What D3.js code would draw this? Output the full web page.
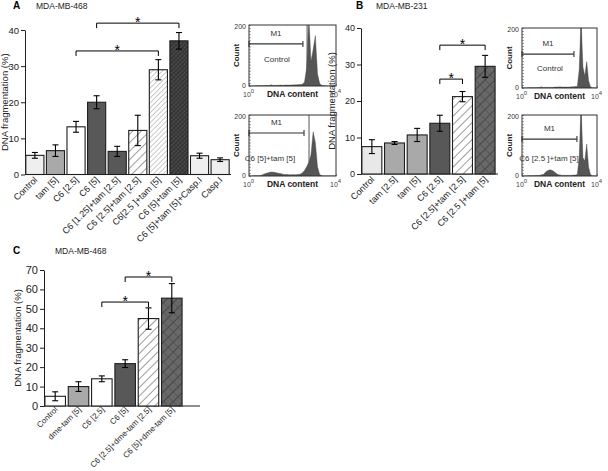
<!DOCTYPE html>
<html>
<head>
<meta charset="utf-8">
<script src="https://cdn.jsdelivr.net/npm/d3@7"></script>
<style>
body { margin: 0; background: #fff; }
svg { display: block; font-family: Arial, "Liberation Sans", sans-serif; }
</style>
</head>
<body>
<svg id="fig" width="608" height="471"></svg>
<script>
// ---- data ----
var catsA = ["Control", "tam [5]", "C6 [2.5]", "C6 [5]", "C6 [1.25]+tam [2.5]", "C6 [2.5]+tam [2.5]",
             "C6[2.5 ]+tam [5]", "C6 [5]+tam [5]", "C6 [5]+tam [5]+Casp.I", "Casp.I"];
var valsA = [5.3, 6.6, 13.2, 20.0, 6.4, 12.2, 29.0, 37.0, 5.2, 4.1];
var errA = [0.8, 1.6, 1.5, 1.8, 1.4, 4.2, 2.8, 2.3, 0.7, 0.5];
var sigA = [[3, 7, 41.9], [2, 6, 34.2]];

var catsB = ["Control", "tam [2.5]", "tam [5]", "C6 [2.5]", "C6 [2.5]+tam [2.5]", "C6 [2.5 ]+tam [5]"];
var valsB = [7.5, 8.5, 10.7, 13.9, 21.2, 29.5];
var errB = [1.9, 0.4, 1.8, 2.2, 1.4, 3.0];
var sigB = [[3, 5, 35.3], [3, 4, 26.0]];

var catsC = ["Control", "dme-tam [5]", "C6 [2.5]", "C6 [5]", "C6 [2.5]+dme-tam [2.5]", "C6 [5]+dme-tam [5]"];
var valsC = [5.0, 10.0, 14.0, 21.8, 45.0, 55.5];
var errC = [2.3, 2.5, 1.5, 2.0, 5.5, 7.5];
var sigC = [[3, 5, 66.4], [2, 4, 53.5]];

var yTicksAB = [0, 10, 20, 30, 40];
var yTicksC = [0, 10, 20, 30, 40, 50, 60, 70];

// flow histograms: counts per 0.1-decade bin, 10^0 .. 10^4
var histACtrl = [0,0,0,1,1,1,1,2,2,2, 2,2,2,2,3,2,3,3,3,3, 3,4,4,5,6,12,60,230,80,120, 165,40,8,2,1,0,0,0,0,0];
var histATreat = [0,0,1,1,1,2,5,8,10,12, 13,12,11,9,8,6,5,5,4,4, 4,4,5,6,10,18,30,45,70,145, 110,30,5,1,0,0,0,0,0,0];
var histBCtrl = [0,0,0,1,1,1,1,1,2,2, 2,2,2,2,2,2,2,3,3,3, 3,3,3,3,3,3,4,4,5,5, 60,230,70,40,88,25,4,1,0,0];
var histBTreat = [0,0,0,1,1,1,1,2,2,2, 3,6,12,17,20,20,17,12,7,4, 2,2,2,2,2,2,2,3,3,5, 60,230,60,50,105,30,5,1,0,0];
// M1 gate end and cursor line (decades), M1 marker height (counts)
var gateA = [[2.48, 2.67, 138], [2.53, 2.76, 141]];
var gateB = [[2.77, 3.15, 113], [2.93, 3.15, 121]];

// ---- styles ----
var fillA = ["#efefef", "#a9a9a9", "#fff", "#585858", "#585858", "url(#hatchSparse)", "url(#hatchDense)", "url(#crossDark)", "#efefef", "#efefef"];
var fillB = ["#e8e8e8", "#a9a9a9", "#a9a9a9", "#585858", "url(#hatchSparse)", "url(#crossMid)"];
var fillC = ["#fff", "#a9a9a9", "#fff", "#585858", "url(#hatchSparse)", "url(#crossMid)"];

var svg = d3.select("#fig");
var ink = "#1e1e1e";

function makePatterns() {
    var defs = svg.append("defs");
    function lines(id, size, bg, col, w, both) {
        var p = defs.append("pattern").attr("id", id).attr("patternUnits", "userSpaceOnUse")
            .attr("width", size).attr("height", size).attr("patternTransform", "rotate(45)");
        p.append("rect").attr("width", size).attr("height", size).attr("fill", bg);
        p.append("line").attr("x1", 0).attr("y1", 0).attr("x2", 0).attr("y2", size)
            .attr("stroke", col).attr("stroke-width", w);
        if (both) {
            p.append("line").attr("x1", 0).attr("y1", 0).attr("x2", size).attr("y2", 0)
                .attr("stroke", both).attr("stroke-width", w);
        }
    }
    lines("hatchSparse", 6, "#fff", "#222", 0.9);
    lines("hatchDense", 3.5, "#fff", "#8a8a8a", 0.9);
    lines("crossDark", 3, "#4a4a4a", "#151515", 1, "#2a2a2a");
    lines("crossMid", 7, "#686868", "#2a2a2a", 1.1, "#4a4a4a");
}

function barPanel(cats, vals, errs, fills, sig, L) {
    var g = svg.append("g");
    var x = d3.scaleBand().domain(cats).range([L.x0, L.x1]).paddingInner(0.12).paddingOuter(0.04);
    var y = d3.scaleLinear().domain([0, L.ymax]).range([L.yb, L.yt]);

    g.append("g").attr("transform", "translate(" + L.x0 + ",0)")
        .call(d3.axisLeft(y).tickValues(L.ticks).tickSize(4).tickSizeOuter(0).tickPadding(2))
        .call(a => a.selectAll("text").attr("font-size", L.tickFont).attr("fill", "#222").attr("font-family", null))
        .call(a => a.selectAll("line,path").attr("stroke", ink));

    g.append("line").attr("x1", L.x0).attr("x2", L.axisEnd).attr("y1", y(0)).attr("y2", y(0))
        .attr("stroke", ink).attr("stroke-width", 1);

    g.selectAll("rect.bar").data(vals).enter().append("rect")
        .attr("class", "bar")
        .attr("x", (d, i) => x(cats[i]))
        .attr("y", d => y(d))
        .attr("width", x.bandwidth())
        .attr("height", d => y(0) - y(d))
        .attr("fill", (d, i) => fills[i])
        .attr("stroke", ink).attr("stroke-width", 1.1);

    var cx = i => x(cats[i]) + x.bandwidth() / 2;
    var eb = g.selectAll("g.err").data(vals).enter().append("g").attr("stroke", "#000").attr("stroke-width", 1.1);
    eb.append("line").attr("x1", (d, i) => cx(i)).attr("x2", (d, i) => cx(i))
        .attr("y1", (d, i) => y(d - errs[i])).attr("y2", (d, i) => y(d + errs[i]));
    eb.append("line").attr("x1", (d, i) => cx(i) - 3).attr("x2", (d, i) => cx(i) + 3)
        .attr("y1", (d, i) => y(d - errs[i])).attr("y2", (d, i) => y(d - errs[i]));
    eb.append("line").attr("x1", (d, i) => cx(i) - 3).attr("x2", (d, i) => cx(i) + 3)
        .attr("y1", (d, i) => y(d + errs[i])).attr("y2", (d, i) => y(d + errs[i]));

    g.selectAll("text.xl").data(cats).enter().append("text")
        .attr("text-anchor", "end")
        .attr("font-size", L.labFont).attr("fill", "#222")
        .attr("transform", (d, i) => "translate(" + (cx(i) + 3) + "," + (y(0) + L.labDy) + ") rotate(-45)")
        .text(d => d);

    sig.forEach(function (s) {
        var yy = y(s[2]);
        g.append("path")
            .attr("d", "M" + cx(s[0]) + "," + (yy + 5) + "V" + yy + "H" + cx(s[1]) + "V" + (yy + 5))
            .attr("fill", "none").attr("stroke", "#000").attr("stroke-width", 1);
        g.append("text").attr("x", (cx(s[0]) + cx(s[1])) / 2).attr("y", yy + 4)
            .attr("text-anchor", "middle").attr("font-size", 14).text("*");
    });

    g.append("text").attr("transform", "translate(" + L.labX + "," + (L.yb + L.yt) / 2 + ") rotate(-90)")
        .attr("text-anchor", "middle").attr("font-size", 9.5).attr("fill", "#222")
        .text("DNA fragmentation (%)");
}

function histPanel(counts, gate, label, B) {
    var g = svg.append("g");
    var x = d3.scaleLinear().domain([0, 4]).range([B.x, B.x + B.w]);
    var xl = d3.scaleLog().domain([1, 10000]).range([B.x, B.x + B.w]);
    var y = d3.scaleLinear().domain([0, 200]).range([B.y + B.h, B.y]);
    var id = "clip" + B.x + "_" + B.y;
    g.append("clipPath").attr("id", id).append("rect")
        .attr("x", B.x).attr("y", B.y).attr("width", B.w).attr("height", B.h);

    var pts = [[0, 0]].concat(counts.map((c, i) => [i * 0.1 + 0.05, c])).concat([[4, 0]]);
    g.append("path").datum(pts).attr("clip-path", "url(#" + id + ")")
        .attr("d", d3.area().x(d => x(d[0])).y0(y(0)).y1(d => y(d[1])))
        .attr("fill", "#555").attr("stroke", "#444").attr("stroke-width", 0.4);

    // cursor line
    g.append("line").attr("x1", x(gate[1])).attr("x2", x(gate[1])).attr("y1", B.y).attr("y2", B.y + B.h)
        .attr("stroke", "#555").attr("stroke-width", 1);

    // minor ticks
    g.append("g").attr("transform", "translate(0," + (B.y + B.h) + ")")
        .call(d3.axisTop(xl).ticks(4).tickSize(2).tickSizeOuter(0).tickFormat(""))
        .call(a => a.selectAll("line").attr("stroke", "#666").attr("stroke-width", 0.6))
        .call(a => a.select(".domain").remove());
    g.append("g").attr("transform", "translate(" + B.x + ",0)")
        .call(d3.axisRight(y).tickValues(d3.range(0, 201, 10)).tickSize(2).tickSizeOuter(0).tickFormat(""))
        .call(a => a.selectAll("line").attr("stroke", "#666").attr("stroke-width", 0.6))
        .call(a => a.select(".domain").remove());

    g.append("rect").attr("x", B.x).attr("y", B.y).attr("width", B.w).attr("height", B.h)
        .attr("fill", "none").attr("stroke", "#333").attr("stroke-width", 1);

    // M1 marker
    var my = y(gate[2]);
    g.append("path").attr("d", "M" + x(0) + "," + (my - 3) + "V" + (my + 3) + "M" + x(0) + "," + my +
            "H" + x(gate[0]) + "M" + x(gate[0]) + "," + (my - 3) + "V" + (my + 3))
        .attr("stroke", "#333").attr("stroke-width", 1.1).attr("fill", "none");
    g.append("text").attr("x", (x(0) + x(gate[0])) / 2).attr("y", my - 8)
        .attr("text-anchor", "middle").attr("font-size", 8).attr("fill", "#333").text("M1");
    g.append("text").attr("x", B.lx).attr("y", B.ly)
        .attr("text-anchor", "middle").attr("font-size", 8).attr("fill", "#333").text(label);

    g.append("text").attr("x", B.x - 3).attr("y", B.y + 4).attr("text-anchor", "end")
        .attr("font-size", 7).attr("fill", "#333").text("200");
    g.append("text").attr("x", B.x - 3).attr("y", B.y + B.h + 2).attr("text-anchor", "end")
        .attr("font-size", 7).attr("fill", "#333").text("0");
    g.append("text").attr("transform", "translate(" + (B.x - 10) + "," + (B.y + B.h / 2) + ") rotate(-90)")
        .attr("text-anchor", "middle").attr("font-size", 8).attr("font-weight", "bold").attr("fill", "#222").text("Count");
    g.append("text").attr("x", B.x + B.w / 2).attr("y", B.y + B.h + 11)
        .attr("text-anchor", "middle").attr("font-size", 8.5).attr("font-weight", "bold").attr("fill", "#222").text("DNA content");
    [[0, "0"], [4, "4"]].forEach(function (t) {
        var tx = g.append("text").attr("x", x(t[0]) - 6).attr("y", B.y + B.h + 11)
            .attr("font-size", 7).attr("fill", "#444");
        tx.append("tspan").text("10");
        tx.append("tspan").attr("dy", -4).attr("font-size", 6).text(t[1]);
    });
}

makePatterns();

barPanel(catsA, valsA, errA, fillA, sigA,
    { x0: 25, x1: 230, axisEnd: 231, ymax: 40, yb: 174.5, yt: 30, ticks: yTicksAB, tickFont: 9.5, labFont: 9, labDy: 6, labX: 8 });
barPanel(catsB, valsB, errB, fillB, sigB,
    { x0: 361, x1: 496, axisEnd: 498, ymax: 40, yb: 174, yt: 28, ticks: yTicksAB, tickFont: 9, labFont: 9, labDy: 6, labX: 335 });
barPanel(catsC, valsC, errC, fillC, sigC,
    { x0: 44, x1: 183, axisEnd: 200, ymax: 70, yb: 406, yt: 270, ticks: yTicksC, tickFont: 11, labFont: 8, labDy: 4, labX: 21 });

histPanel(histACtrl, gateA[0], "Control", { x: 249, y: 25, w: 87, h: 61, lx: 277, ly: 62 });
histPanel(histATreat, gateA[1], "C6 [5]+tam [5]", { x: 249, y: 115, w: 87, h: 61, lx: 270, ly: 161 });
histPanel(histBCtrl, gateB[0], "Control", { x: 522, y: 28, w: 75, h: 60, lx: 550, ly: 71 });
histPanel(histBTreat, gateB[1], "C6 [2.5 ]+tam [5]", { x: 522, y: 115, w: 75, h: 61, lx: 549, ly: 161 });

// panel titles
[["A", 13, 9], ["B", 356, 9], ["C", 13, 254]].forEach(function (t) {
    svg.append("text").attr("x", t[1]).attr("y", t[2]).attr("font-size", 10).attr("font-weight", "bold").text(t[0]);
});
[["MDA-MB-468", 36, 9], ["MDA-MB-231", 376, 9], ["MDA-MB-468", 55, 254]].forEach(function (t) {
    svg.append("text").attr("x", t[1]).attr("y", t[2]).attr("font-size", 8.5).attr("fill", "#222").text(t[0]);
});
</script>
</body>
</html>
